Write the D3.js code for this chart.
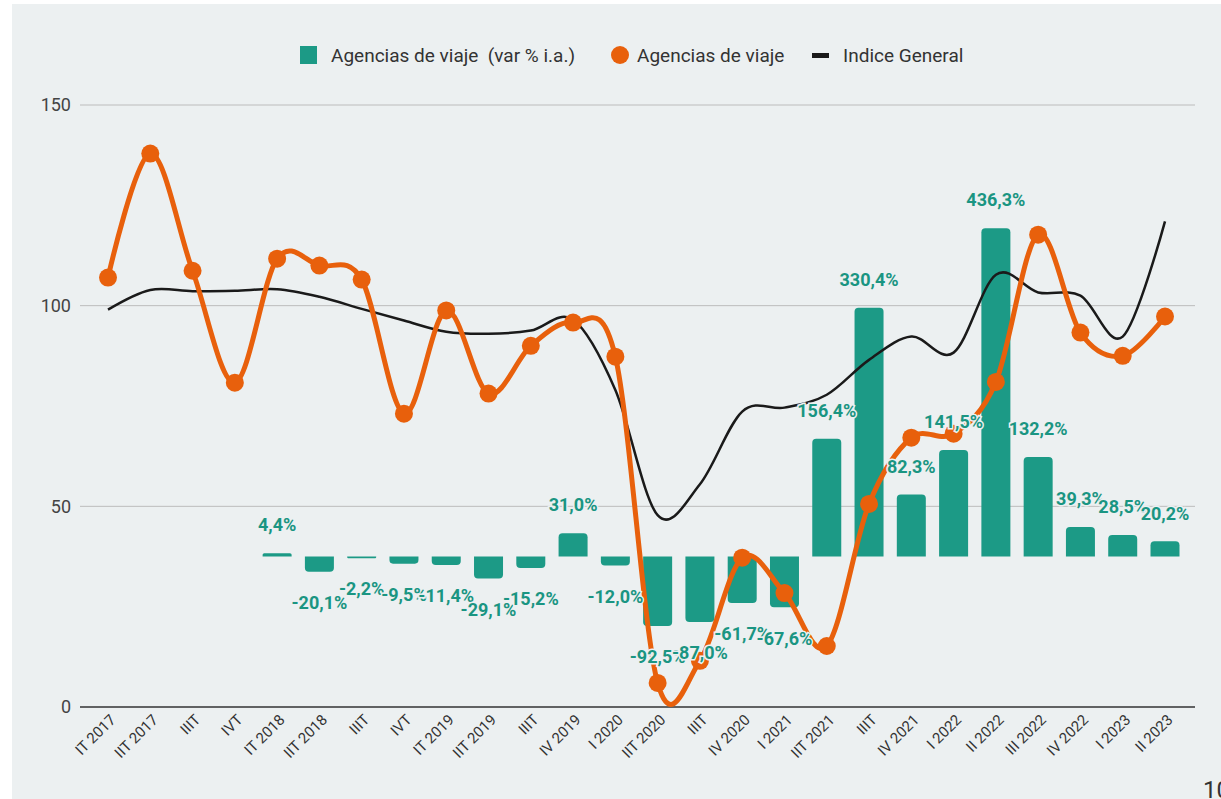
<!DOCTYPE html>
<html>
<head>
<meta charset="utf-8">
<script src="https://cdn.jsdelivr.net/npm/d3@7"></script>
<style>
  body { margin: 0; background: #fff; font-family: Roboto, "Noto Sans", sans-serif; }
  svg { display: block; }
</style>
</head>
<body>
<div id="graphic"></div>
<script>
// quarters (x axis)
var quarters = ["IT 2017", "IIT 2017", "IIIT", "IVT", "IT 2018", "IIT 2018", "IIIT", "IVT",
  "IT 2019", "IIT 2019", "IIIT", "IV 2019", "I 2020", "IIT 2020", "IIIT", "IV 2020",
  "I 2021", "IIT 2021", "IIIT", "IV 2021", "I 2022", "II 2022", "III 2022", "IV 2022",
  "I 2023", "II 2023"];

// Agencias de viaje (var % i.a.) - bars, right hidden axis
var varPct = [null, null, null, null, 4.4, -20.1, -2.2, -9.5, -11.4, -29.1, -15.2, 31.0,
  -12.0, -92.5, -87.0, -61.7, -67.6, 156.4, 330.4, 82.3, 141.5, 436.3, 132.2, 39.3, 28.5, 20.2];

// Agencias de viaje (index)
var agencias = [107.0, 137.9, 108.7, 80.8, 111.7, 110.0, 106.5, 73.1, 98.8, 78.1, 90.0, 95.8,
  87.3, 6.0, 11.5, 37.2, 28.4, 15.2, 50.6, 67.1, 68.1, 81.0, 117.7, 93.3, 87.5, 97.3];

// Indice General
var general = [99.0, 103.9, 103.6, 103.7, 104.1, 102.2, 99.2, 96.3, 93.5, 93.0, 93.8, 96.5,
  79.0, 47.8, 55.5, 73.6, 74.6, 77.8, 86.5, 92.3, 88.3, 107.7, 103.3, 102.5, 92.3, 121.0];

var yTicks = [0, 50, 100, 150];

var graphic = {};

graphic.create = function() {
  var width = 1221, height = 799;
  var teal = "#1c9a86", tealText = "#1a9582", orange = "#e8600c", bg = "#ecf0f1";

  var svg = d3.select("#graphic").append("svg").attr("width", width).attr("height", height);
  svg.append("rect").attr("x", 12).attr("y", 4).attr("width", width - 12).attr("height", height - 4).attr("fill", bg);

  var x = d3.scalePoint().domain(d3.range(quarters.length)).range([108, 1165]);
  var y = d3.scaleLinear().domain([0, 150]).range([707, 105]);
  var y2 = d3.scaleLinear().domain([-200, 600]).range([707, 105]);

  // grid + y axis labels
  var grid = svg.append("g");
  yTicks.forEach(function(t) {
    grid.append("line").attr("x1", 80).attr("x2", 1195).attr("y1", y(t)).attr("y2", y(t))
      .attr("stroke", t === 0 ? "#333" : "#bcbcbc").attr("stroke-width", t === 0 ? 1.5 : 1);
    grid.append("text").attr("x", 71).attr("y", y(t)).attr("dy", "0.35em")
      .attr("text-anchor", "end").attr("font-size", 18).attr("fill", "#444").text(t);
  });

  // x axis labels
  var xl = svg.append("g");
  quarters.forEach(function(q, i) {
    xl.append("text")
      .attr("transform", "translate(" + (x(i) + 5) + ",717) rotate(-45)")
      .attr("text-anchor", "end").attr("dy", "0.35em")
      .attr("font-size", 15).attr("fill", "#333").text(q);
  });

  // bars
  var bw = 29, r = 4;
  var barData = varPct.map(function(v, i) { return {i: i, v: v}; }).filter(function(d) { return d.v !== null; });
  svg.append("g").selectAll("path").data(barData).enter().append("path")
    .attr("fill", teal)
    .attr("d", function(d) {
      var x0 = x(d.i) - bw / 2, x1 = x(d.i) + bw / 2, b = y2(0), t = y2(d.v);
      var h = Math.abs(b - t), rr = Math.min(r, h / 2);
      var s = d.v >= 0 ? -1 : 1;
      return "M" + x0 + "," + b + "L" + x0 + "," + (t - s * rr) +
        "Q" + x0 + "," + t + " " + (x0 + rr) + "," + t +
        "L" + (x1 - rr) + "," + t + "Q" + x1 + "," + t + " " + x1 + "," + (t - s * rr) +
        "L" + x1 + "," + b + "Z";
    });

  // Indice General line
  var line = d3.line().x(function(d, i) { return x(i); }).y(function(d) { return y(d); })
    .curve(d3.curveCatmullRom.alpha(0));
  svg.append("path").datum(general).attr("d", line).attr("fill", "none")
    .attr("stroke", "#1a1a1a").attr("stroke-width", 2.5);

  // Agencias line + points
  svg.append("path").datum(agencias).attr("d", line).attr("fill", "none")
    .attr("stroke", orange).attr("stroke-width", 5);
  svg.append("g").selectAll("circle").data(agencias).enter().append("circle")
    .attr("cx", function(d, i) { return x(i); }).attr("cy", function(d) { return y(d); })
    .attr("r", 9).attr("fill", orange);

  // bar labels
  var fmt = function(v) { return v.toFixed(1).replace(".", ",") + "%"; };
  svg.append("g").selectAll("text").data(barData).enter().append("text")
    .attr("x", function(d) { return x(d.i); })
    .attr("y", function(d) { return d.v >= 0 ? y2(d.v) - 28 : y2(d.v) + 31; })
    .attr("dy", "0.35em").attr("text-anchor", "middle")
    .attr("font-size", 18).attr("font-weight", "bold").attr("fill", tealText)
    .attr("stroke", bg).attr("stroke-width", 3).attr("paint-order", "stroke")
    .text(function(d) { return fmt(d.v); });

  // legend
  var lg = svg.append("g").attr("font-size", 19).attr("fill", "#333");
  lg.append("rect").attr("x", 300).attr("y", 46).attr("width", 17).attr("height", 18).attr("fill", teal);
  lg.append("text").attr("x", 331).attr("y", 55).attr("dy", "0.35em").attr("xml:space", "preserve")
    .text("Agencias de viaje  (var % i.a.)");
  lg.append("circle").attr("cx", 620).attr("cy", 55).attr("r", 9).attr("fill", orange);
  lg.append("text").attr("x", 637).attr("y", 55).attr("dy", "0.35em").text("Agencias de viaje");
  lg.append("rect").attr("x", 812).attr("y", 53).attr("width", 17).attr("height", 5).attr("fill", "#1a1a1a");
  lg.append("text").attr("x", 843).attr("y", 55).attr("dy", "0.35em").text("Indice General");

  // page number
  svg.append("text").attr("x", 1203).attr("y", 798).attr("font-size", 24).attr("fill", "#333").text("10");
};

graphic.create();
</script>
</body>
</html>
